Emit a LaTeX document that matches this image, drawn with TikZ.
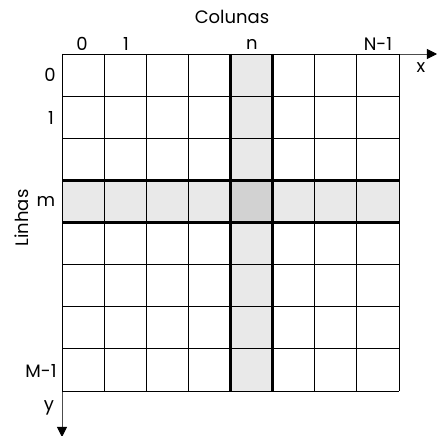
\documentclass[tikz,border=0pt]{standalone}
\usepackage{fontspec}
\setmainfont{Poppins}
\usetikzlibrary{arrows.meta, positioning}

\begin{document}
\begin{tikzpicture}[
    x=1pt, y=-1pt,
    every node/.style={font=\fontsize{18}{20}\selectfont, inner sep=0pt},
    celula/.style={draw=black, line width=0.9pt},
    faixa/.style={fill=gray!17},
    cruz/.style={fill=gray!35},
    borda/.style={draw=black, line width=2.4pt},
    eixo/.style={draw=gray!60!black, line width=0.9pt, -{Triangle[length=3.6mm, width=3.6mm, color=black]}}
]
\useasboundingbox (0,0) rectangle (436,436);
\def\lado{42.125}

% Faixas destacadas
\fill[faixa] (62,54+3*\lado) rectangle (399,54+4*\lado);
\fill[faixa] (62+4*\lado,54) rectangle (62+5*\lado,391);
\fill[cruz] (62+4*\lado,54+3*\lado) rectangle (62+5*\lado,54+4*\lado);

% Eixos
\coordinate (origem) at (62,54);
\coordinate (xfim) at (437,54);
\coordinate (yfim) at (62,437);
\draw[eixo] (origem) -- (xfim);
\draw[eixo] (origem) -- (yfim);

% Grade
\foreach \i in {0,...,8} {
    \draw[celula] (62+\i*\lado,54) -- (62+\i*\lado,391);
    \draw[celula] (62,54+\i*\lado) -- (399,54+\i*\lado);
}
\draw[borda] (62+4*\lado,54) -- (62+4*\lado,391);
\draw[borda] (62+5*\lado,54) -- (62+5*\lado,391);
\draw[borda] (62,54+3*\lado) -- (399,54+3*\lado);
\draw[borda] (62,54+4*\lado) -- (399,54+4*\lado);

% Rotulos das colunas
\node (colunas) at (232,17) {Colunas};
\node (col0) at (82,44) {0};
\node (col1) at (126,44) {1};
\node (coln) at (252,44) {n};
\node (colN) at (378,44) {N-1};
\node (eixox) at (421,68) {x};

% Rotulos das linhas
\node[rotate=90] (linhas) at (22,218) {Linhas};
\node (lin0) at (50,75) {0};
\node (lin1) at (51,118) {1};
\node (linm) at (46,201) {m};
\node (linM) at (41,371) {M-1};
\node (eixoy) at (49,408) {y};

\end{tikzpicture}
\end{document}
